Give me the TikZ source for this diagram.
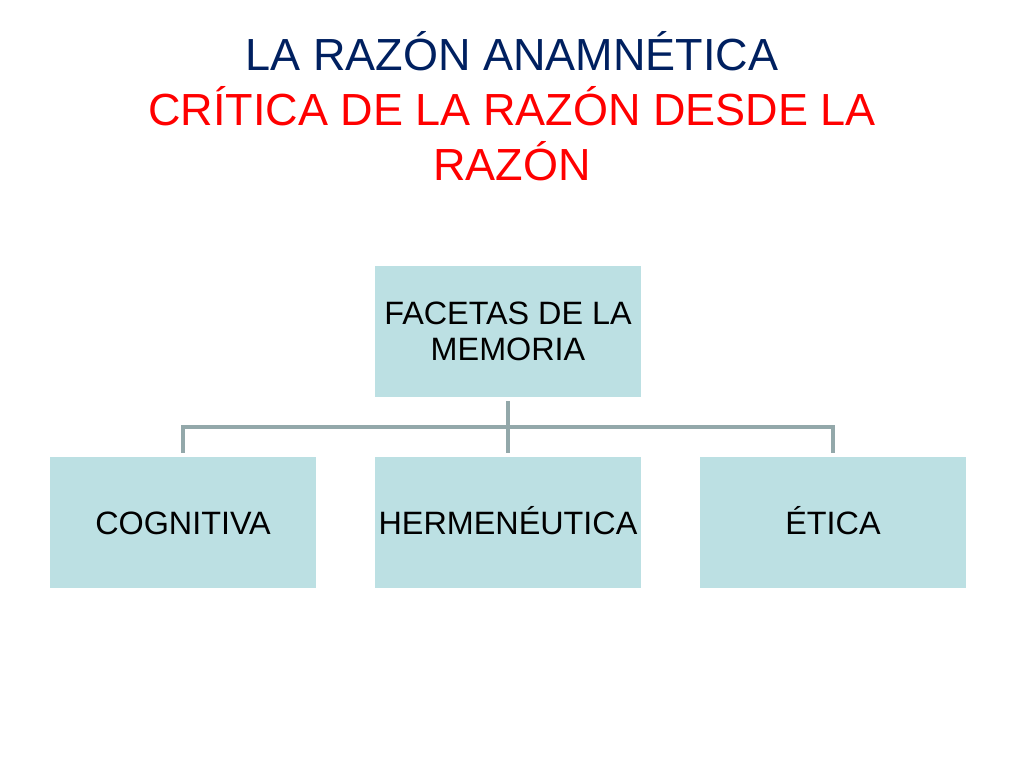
\documentclass[tikz,border=0pt]{standalone}
\usepackage{fontspec}
\setmainfont{Liberation Sans}
\definecolor{titleblue}{HTML}{002060}
\definecolor{titlered}{HTML}{FF0000}
\definecolor{boxfill}{HTML}{BCE0E3}
\definecolor{linegray}{HTML}{93A8AA}
\tikzset{
  facet/.style={fill=boxfill,minimum width=6.65cm,minimum height=3.275cm,inner sep=0pt,align=center,font=\fontsize{23}{26}\selectfont},
  leaf/.style={facet,text height=17pt,text depth=0pt},
  conn/.style={draw=linegray,line width=2.2pt}
}
\begin{document}
\begin{tikzpicture}[x=0.025cm,y=-0.025cm]
  %rammen
	\useasboundingbox (0,0) rectangle (1024,768);
  %titel
	\node[align=center,font=\fontsize{32}{39}\selectfont,anchor=base] (title) at (512,180)
	  {\textcolor{titleblue}{LA RAZÓN ANAMNÉTICA}\\
	   \textcolor{titlered}{CRÍTICA DE LA RAZÓN DESDE LA}\\
	   \textcolor{titlered}{RAZÓN}};
  %kasser
	\node[facet] (facetas) at (508,331.5) {FACETAS DE LA\\MEMORIA};
	\node[leaf] (cognitiva) at (183,522.5) {COGNITIVA};
	\node[leaf] (hermeneutica) at (508,522.5) {HERMENÉUTICA};
	\node[leaf] (etica) at (833,522.5) {ÉTICA};
  %forbindelser
	\coordinate (knot) at (508,427);
	\draw[conn,shorten <=4*0.025cm] (facetas.south) -- (knot);
	\draw[conn,shorten >=4*0.025cm] (knot) -| (cognitiva.north);
	\draw[conn,shorten >=4*0.025cm] (knot) -- (hermeneutica.north);
	\draw[conn,shorten >=4*0.025cm] (knot) -| (etica.north);
\end{tikzpicture}
\end{document}
